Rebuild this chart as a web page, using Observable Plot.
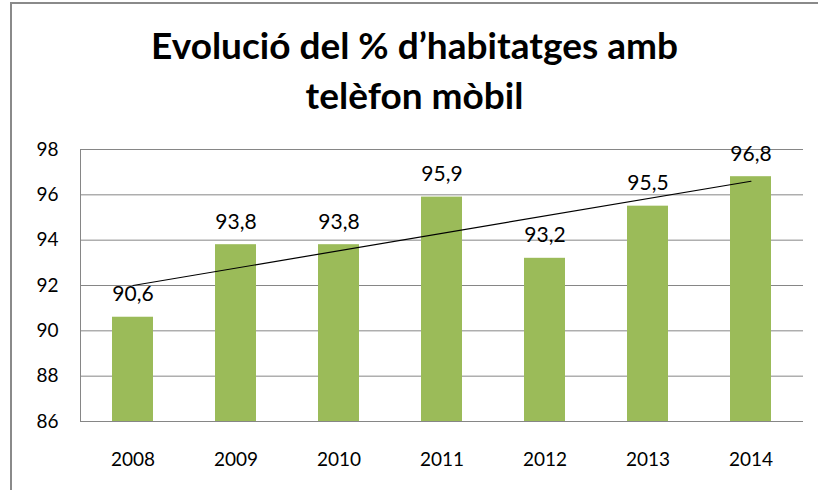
<!DOCTYPE html>
<html><head><meta charset="utf-8">
<script src="https://cdn.jsdelivr.net/npm/d3@7"></script>
<script src="https://cdn.jsdelivr.net/npm/@observablehq/plot@0.6"></script>
<style>
body{margin:0;background:#fff;}
#wrap{position:relative;width:818px;height:490px;overflow:hidden;font-family:Lato,sans-serif;}
#frame{position:absolute;left:10px;top:2px;right:-5px;bottom:-5px;border-left:2px solid #8a8a8a;border-top:2px solid #8a8a8a;}
#title{position:absolute;left:11px;width:807px;top:20px;text-align:center;font-weight:700;font-size:37px;line-height:50px;color:#000;}
#chart{position:absolute;left:0;top:130px;}
</style></head><body>
<div id="wrap"><div id="frame"></div><div id="title">Evolució del % d’habitatges amb<br>telèfon mòbil</div><div id="chart"></div></div>
<script>
const years = ["2008","2009","2010","2011","2012","2013","2014"];
const values = [90.6, 93.8, 93.8, 95.9, 93.2, 95.5, 96.8];
const labels = ["90,6","93,8","93,8","95,9","93,2","95,5","96,8"];
const yTicks = [86, 88, 90, 92, 94, 96, 98];
const trendYears = ["2008","2014"];
const trendValues = [92.0, 96.6];

const data = years.map((y, i) => ({year: y, value: values[i], label: labels[i]}));
const trend = trendYears.map((y, i) => ({year: y, value: trendValues[i]}));

const chart = Plot.plot({
  width: 818, height: 360,
  marginTop: 19, marginBottom: 69, marginLeft: 80, marginRight: 15,
  style: {fontFamily: "Lato, sans-serif", fontSize: "19px", color: "#000", background: "transparent"},
  x: {domain: years, paddingInner: 0.6, paddingOuter: 0.3, label: null},
  y: {domain: [yTicks[0], yTicks[yTicks.length - 1]], label: null},
  marks: [
    Plot.ruleY(yTicks, {stroke: "#868686", strokeWidth: 1}),
    Plot.frame({anchor: "left", stroke: "#868686"}),
    Plot.barY(data, {x: "year", y1: yTicks[0], y2: "value", fill: "#9BBB59"}),
    Plot.line(trend, {x: "year", y: "value", stroke: "#000", strokeWidth: 1.2}),
    Plot.text(data, {x: "year", y: "value", text: "label", lineAnchor: "bottom", dy: -16, fontSize: 21, fill: "#000"}),
    Plot.axisY({ticks: yTicks, tickSize: 0, tickPadding: 22, fontSize: 19, label: null}),
    Plot.axisX({tickSize: 0, tickPadding: 31, fontSize: 19, label: null})
  ]
});
document.getElementById("chart").appendChild(chart);
</script>
</body></html>
